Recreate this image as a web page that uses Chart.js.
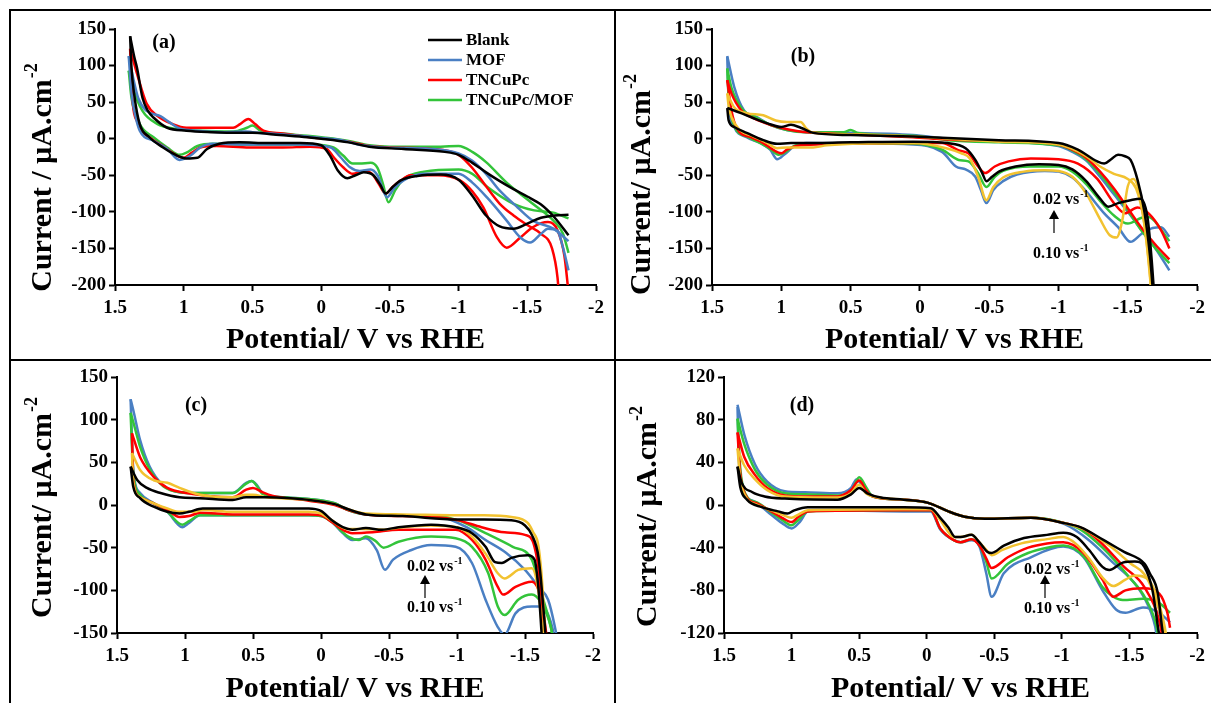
<!DOCTYPE html>
<html><head><meta charset="utf-8">
<script src="https://cdn.jsdelivr.net/npm/chart.js@4.4.1/dist/chart.umd.min.js"></script>
<style>
html,body{margin:0;padding:0;background:#fff;}
body{width:1211px;height:703px;overflow:hidden;position:relative;}
canvas{position:absolute;}
.ln{position:absolute;background:#000;}
</style></head><body>
<div class="ln" style="left:9px;top:9px;width:1202px;height:2px"></div>
<div class="ln" style="left:9px;top:9px;width:2px;height:694px"></div>
<div class="ln" style="left:9px;top:359px;width:1202px;height:2px"></div>
<div class="ln" style="left:614px;top:9px;width:2px;height:351px"></div>
<div class="ln" style="left:614px;top:359px;width:2px;height:344px"></div>
<canvas id="ca" width="598" height="346" style="left:12px;top:12px"></canvas>
<canvas id="cb" width="594" height="346" style="left:617px;top:12px"></canvas>
<canvas id="cc" width="598" height="341" style="left:12px;top:362px"></canvas>
<canvas id="cd" width="594" height="341" style="left:617px;top:362px"></canvas>
<script>
// ---------- tick labels & texts ----------
const xTicks = [1.5, 1, 0.5, 0, -0.5, -1, -1.5, -2];
const xTickLabels = ['1.5', '1', '0.5', '0', '-0.5', '-1', '-1.5', '-2'];
const yTicksAB = [150, 100, 50, 0, -50, -100, -150, -200];
const yTicksC = [150, 100, 50, 0, -50, -100, -150];
const yTicksD = [120, 80, 40, 0, -40, -80, -120];
const xTitleText = 'Potential/ V vs RHE';
const yTitleA = 'Current / \u00b5A.cm';
const yTitleB = 'Current/ \u00b5A.cm';
const ySup = '-2';
const legendLabels = ['Blank', 'MOF', 'TNCuPc', 'TNCuPc/MOF'];
const rateTop = '0.02 vs', rateBottom = '0.10 vs', rateSup = '-1';

// ---------- panel (a): [potential V, current uA/cm2] ----------
const aBlankUpper = [[1.39,140],[1.36,112],[1.34,97],[1.30,56],[1.26,38],[1.22,29],[1.12,15],[0.98,11],[0.8,9],[0.6,8],[0.5,8],[0.3,5],[0.1,2],[0,0],[-0.2,-5],[-0.35,-11],[-0.6,-14],[-0.9,-18],[-1.0,-22],[-1.1,-33],[-1.2,-46],[-1.3,-58],[-1.4,-69],[-1.5,-79],[-1.6,-90],[-1.7,-108],[-1.8,-132]];
const aBlankLower = [[1.39,140],[1.38,97],[1.36,60],[1.32,20],[1.25,2],[1.15,-12],[1.08,-20],[0.98,-27],[0.9,-26],[0.83,-14],[0.74,-7],[0.59,-5],[0.39,-6],[0.15,-6],[0.0,-9],[-0.07,-25],[-0.12,-43],[-0.19,-54],[-0.25,-50],[-0.31,-46],[-0.38,-50],[-0.43,-63],[-0.47,-75],[-0.52,-66],[-0.58,-57],[-0.7,-51],[-0.87,-49],[-1.0,-56],[-1.1,-78],[-1.2,-105],[-1.3,-120],[-1.4,-123],[-1.5,-116],[-1.6,-108],[-1.7,-105],[-1.8,-104]];
const aMofUpper = [[1.4,113],[1.37,85],[1.33,55],[1.27,38],[1.17,31],[1.1,22],[1.03,14],[0.9,11],[0.7,9],[0.55,10],[0.5,9],[0.3,6],[0.1,3],[0,1],[-0.15,-2],[-0.3,-9],[-0.45,-12],[-0.8,-14],[-1.0,-20],[-1.1,-30],[-1.2,-48],[-1.3,-71],[-1.43,-94],[-1.54,-112],[-1.69,-123],[-1.8,-140]];
const aMofLower = [[1.4,113],[1.38,62],[1.35,30],[1.32,11],[1.22,-3],[1.12,-14],[1.03,-29],[0.95,-23],[0.88,-12],[0.79,-7],[0.5,-8],[0.15,-8],[-0.07,-12],[-0.14,-25],[-0.21,-39],[-0.28,-44],[-0.36,-42],[-0.41,-50],[-0.48,-80],[-0.53,-68],[-0.6,-57],[-0.75,-48],[-1.0,-48],[-1.1,-60],[-1.21,-81],[-1.35,-112],[-1.45,-135],[-1.52,-142],[-1.6,-130],[-1.65,-123],[-1.72,-126],[-1.76,-149],[-1.8,-180]];
const aTncUpper = [[1.39,123],[1.34,89],[1.27,48],[1.19,31],[1.08,20],[0.98,15],[0.64,15],[0.59,20],[0.53,27],[0.48,20],[0.42,11],[0.28,7],[0.08,2],[-0.2,-4],[-0.35,-10],[-0.5,-12],[-0.8,-14],[-1.0,-22],[-1.1,-40],[-1.2,-65],[-1.3,-89],[-1.4,-105],[-1.5,-118],[-1.6,-130],[-1.68,-150],[-1.72,-190],[-1.74,-240]];
const aTncLower = [[1.39,123],[1.38,70],[1.33,20],[1.25,2],[1.15,-10],[1.05,-23],[1.0,-26],[0.94,-19],[0.88,-12],[0.76,-10],[0.52,-12],[0.28,-12],[0.08,-11],[-0.04,-14],[-0.09,-25],[-0.16,-39],[-0.23,-48],[-0.31,-44],[-0.37,-48],[-0.42,-62],[-0.47,-75],[-0.52,-66],[-0.58,-57],[-0.65,-50],[-0.85,-50],[-1.01,-57],[-1.1,-72],[-1.18,-94],[-1.28,-135],[-1.35,-149],[-1.45,-135],[-1.54,-121],[-1.65,-114],[-1.72,-125],[-1.77,-160],[-1.8,-210]];
const aCompUpper = [[1.4,93],[1.37,70],[1.3,38],[1.19,20],[1.08,14],[0.88,11],[0.64,10],[0.54,15],[0.5,18],[0.44,11],[0.28,7],[0.1,4],[0,2],[-0.2,-3],[-0.35,-9],[-0.5,-11],[-0.8,-11],[-1.0,-10],[-1.1,-18],[-1.2,-32],[-1.35,-60],[-1.54,-89],[-1.69,-112],[-1.76,-130],[-1.8,-156]];
const aCompLower = [[1.4,93],[1.38,56],[1.32,20],[1.22,2],[1.12,-12],[1.03,-22],[0.98,-19],[0.9,-10],[0.79,-7],[0.54,-8],[0.08,-8],[-0.09,-12],[-0.16,-23],[-0.23,-34],[-0.28,-34],[-0.36,-33],[-0.41,-40],[-0.45,-62],[-0.49,-87],[-0.54,-70],[-0.6,-55],[-0.75,-45],[-1.0,-42],[-1.1,-48],[-1.21,-66],[-1.4,-89],[-1.55,-98],[-1.69,-101],[-1.8,-109]];

// ---------- panel (b) ----------
const b02Upper = [[1.39,42],[1.36,40],[1.29,35],[1.2,28],[1.1,21],[1.0,16],[0.93,19],[0.86,15],[0.77,8],[0.5,5],[0.05,3],[-0.2,1],[-0.57,-2],[-1.0,-6],[-1.14,-15],[-1.28,-31],[-1.33,-34],[-1.38,-28],[-1.43,-22],[-1.48,-24],[-1.52,-29],[-1.57,-56],[-1.62,-100],[-1.66,-160],[-1.69,-230]];
const b02Lower = [[1.39,42],[1.38,25],[1.34,16],[1.25,8],[1.13,-2],[1.03,-7],[0.93,-6],[0.86,-6],[0.5,-5],[0.05,-4],[-0.2,-6],[-0.33,-13],[-0.4,-29],[-0.45,-47],[-0.48,-58],[-0.52,-52],[-0.57,-45],[-0.69,-38],[-0.86,-35],[-1.0,-36],[-1.1,-42],[-1.2,-58],[-1.3,-82],[-1.36,-93],[-1.43,-88],[-1.52,-84],[-1.59,-82],[-1.64,-105],[-1.67,-160],[-1.7,-240]];
const b04Upper = [[1.39,62],[1.34,43],[1.25,35],[1.13,32],[1.04,25],[0.96,23],[0.86,23],[0.82,14],[0.77,8],[0.5,6],[0.05,3],[-0.2,0],[-0.57,-4],[-1.0,-8],[-1.1,-14],[-1.2,-24],[-1.3,-38],[-1.4,-48],[-1.5,-55],[-1.56,-68],[-1.61,-105],[-1.65,-165],[-1.68,-230]];
const b04Lower = [[1.39,62],[1.38,45],[1.36,30],[1.3,12],[1.2,3],[1.1,-6],[1.03,-13],[0.96,-12],[0.77,-12],[0.67,-9],[0.05,-6],[-0.19,-13],[-0.3,-20],[-0.36,-27],[-0.42,-52],[-0.48,-84],[-0.53,-66],[-0.6,-53],[-0.75,-45],[-0.9,-43],[-1.0,-44],[-1.1,-52],[-1.2,-75],[-1.3,-110],[-1.37,-132],[-1.42,-135],[-1.46,-112],[-1.5,-65],[-1.54,-55],[-1.59,-80],[-1.64,-150],[-1.68,-230]];
const b06Upper = [[1.39,80],[1.36,62],[1.29,39],[1.2,28],[1.08,19],[0.93,12],[0.77,8],[0.5,6],[0.05,2],[-0.2,-1],[-0.57,-3],[-1.0,-8],[-1.1,-15],[-1.2,-26],[-1.3,-45],[-1.4,-68],[-1.5,-95],[-1.6,-122],[-1.7,-145],[-1.8,-165]];
const b06Lower = [[1.39,80],[1.36,39],[1.32,14],[1.22,2],[1.13,-6],[1.06,-15],[1.0,-20],[0.96,-15],[0.86,-9],[0.05,-6],[-0.16,-6],[-0.28,-16],[-0.35,-20],[-0.42,-38],[-0.47,-47],[-0.54,-38],[-0.64,-31],[-0.8,-27],[-1.0,-28],[-1.14,-34],[-1.28,-55],[-1.4,-88],[-1.48,-102],[-1.57,-94],[-1.65,-102],[-1.74,-125],[-1.8,-150]];
const b08Upper = [[1.39,96],[1.36,70],[1.28,40],[1.18,29],[1.08,19],[0.96,12],[0.82,9],[0.55,9],[0.5,12],[0.45,8],[0.05,4],[-0.2,-2],[-0.57,-5],[-1.0,-9],[-1.1,-16],[-1.2,-28],[-1.3,-48],[-1.4,-72],[-1.5,-98],[-1.6,-126],[-1.7,-150],[-1.8,-170]];
const b08Lower = [[1.39,96],[1.38,58],[1.34,18],[1.25,3],[1.15,-6],[1.08,-14],[1.02,-22],[0.97,-18],[0.91,-10],[0.82,-7],[0.05,-7],[-0.16,-15],[-0.28,-29],[-0.35,-31],[-0.42,-47],[-0.48,-66],[-0.54,-52],[-0.6,-44],[-0.8,-38],[-1.0,-38],[-1.1,-45],[-1.2,-62],[-1.3,-85],[-1.4,-105],[-1.5,-116],[-1.6,-108],[-1.65,-107],[-1.7,-114],[-1.75,-127],[-1.8,-140]];
const b10Upper = [[1.39,113],[1.34,71],[1.27,39],[1.18,30],[1.08,19],[0.96,12],[0.82,9],[0.53,8],[0.05,5],[-0.2,0],[-0.57,-4],[-1.0,-10],[-1.1,-18],[-1.2,-30],[-1.3,-52],[-1.4,-76],[-1.5,-100],[-1.6,-125],[-1.7,-150],[-1.8,-180]];
const b10Lower = [[1.39,112],[1.38,53],[1.34,16],[1.25,2],[1.15,-6],[1.08,-15],[1.03,-28],[0.98,-22],[0.91,-11],[0.82,-6],[0.05,-8],[-0.16,-18],[-0.26,-38],[-0.33,-42],[-0.4,-52],[-0.44,-70],[-0.48,-88],[-0.53,-70],[-0.6,-58],[-0.7,-49],[-0.9,-44],[-1.0,-45],[-1.1,-53],[-1.19,-70],[-1.33,-102],[-1.43,-121],[-1.52,-141],[-1.6,-130],[-1.68,-122],[-1.74,-121],[-1.8,-134]];

// ---------- panel (c) ----------
const c02Upper = [[1.4,45],[1.35,29],[1.28,20],[1.18,14],[1.04,9],[0.89,8],[0.65,6],[0.55,9],[0.5,9],[0.4,9],[0.09,6],[-0.1,1],[-0.2,-5],[-0.33,-11],[-0.6,-13],[-1.0,-17],[-1.2,-17],[-1.4,-18],[-1.5,-24],[-1.55,-35],[-1.6,-62],[-1.64,-130],[-1.66,-170]];
const c02Lower = [[1.4,45],[1.38,21],[1.33,8],[1.23,-2],[1.13,-8],[1.04,-10],[0.97,-8],[0.87,-4],[0.65,-4],[0.09,-4],[0,-7],[-0.08,-18],[-0.16,-26],[-0.23,-29],[-0.33,-27],[-0.45,-29],[-0.57,-26],[-0.81,-23],[-0.99,-26],[-1.11,-33],[-1.21,-49],[-1.28,-67],[-1.33,-68],[-1.4,-62],[-1.52,-59],[-1.57,-64],[-1.6,-100],[-1.63,-170]];
const c04Upper = [[1.39,61],[1.33,41],[1.23,29],[1.13,26],[1.04,20],[0.89,12],[0.65,9],[0.55,12],[0.5,12],[0.4,9],[0.09,6],[-0.1,1],[-0.2,-5],[-0.33,-10],[-0.6,-11],[-1.0,-12],[-1.2,-12],[-1.4,-14],[-1.52,-21],[-1.56,-32],[-1.6,-49],[-1.63,-100],[-1.65,-170]];
const c04Lower = [[1.39,61],[1.38,26],[1.33,9],[1.23,2],[1.13,-4],[1.04,-8],[0.94,-8],[0.87,-6],[0.65,-8],[0.09,-8],[0,-10],[-0.08,-18],[-0.19,-28],[-0.3,-28],[-0.45,-29],[-0.6,-26],[-0.8,-24],[-1.0,-26],[-1.11,-37],[-1.21,-57],[-1.3,-80],[-1.35,-86],[-1.45,-76],[-1.55,-74],[-1.6,-103],[-1.63,-150],[-1.65,-170]];
const c06Upper = [[1.39,84],[1.33,56],[1.23,33],[1.13,20],[0.99,14],[0.65,9],[0.55,18],[0.5,20],[0.43,15],[0.36,11],[0.09,5],[-0.1,0],[-0.2,-6],[-0.33,-11],[-0.6,-13],[-0.85,-14],[-1.01,-18],[-1.18,-26],[-1.35,-32],[-1.5,-35],[-1.57,-49],[-1.61,-90],[-1.63,-143],[-1.65,-170]];
const c06Lower = [[1.39,84],[1.38,29],[1.33,9],[1.23,2],[1.13,-6],[1.04,-14],[0.97,-13],[0.89,-9],[0.65,-11],[0.09,-11],[0,-12],[-0.08,-20],[-0.16,-29],[-0.23,-33],[-0.38,-32],[-0.57,-29],[-0.99,-29],[-1.11,-41],[-1.21,-64],[-1.3,-96],[-1.34,-105],[-1.43,-96],[-1.55,-90],[-1.62,-111],[-1.65,-143],[-1.67,-170]];
const c08Upper = [[1.4,108],[1.38,97],[1.33,68],[1.26,42],[1.16,22],[1.04,15],[0.89,14],[0.65,14],[0.55,25],[0.51,28],[0.47,22],[0.43,13],[0.28,9],[0.09,7],[-0.1,2],[-0.2,-6],[-0.33,-11],[-0.6,-12],[-0.85,-13],[-1.01,-18],[-1.21,-33],[-1.41,-49],[-1.55,-64],[-1.62,-103],[-1.69,-143],[-1.72,-170]];
const c08Lower = [[1.4,108],[1.38,38],[1.33,12],[1.23,2],[1.13,-8],[1.02,-23],[0.97,-19],[0.89,-12],[0.65,-12],[0.09,-12],[0,-13],[-0.08,-20],[-0.2,-37],[-0.28,-41],[-0.33,-37],[-0.4,-42],[-0.46,-50],[-0.57,-43],[-0.81,-37],[-0.99,-39],[-1.11,-49],[-1.23,-80],[-1.3,-119],[-1.35,-129],[-1.45,-111],[-1.55,-105],[-1.62,-115],[-1.69,-143],[-1.72,-170]];
const c10Upper = [[1.4,124],[1.38,111],[1.33,76],[1.26,45],[1.16,23],[1.04,15],[0.89,14],[0.65,14],[0.55,26],[0.51,28],[0.47,23],[0.43,14],[0.28,9],[0.09,7],[-0.1,2],[-0.2,-6],[-0.33,-11],[-0.6,-12],[-0.88,-14],[-1.07,-26],[-1.21,-41],[-1.36,-56],[-1.5,-76],[-1.6,-96],[-1.67,-111],[-1.72,-143],[-1.75,-170]];
const c10Lower = [[1.4,124],[1.38,41],[1.33,14],[1.23,2],[1.13,-8],[1.02,-26],[0.97,-21],[0.89,-12],[0.65,-12],[0.09,-12],[0,-13],[-0.08,-20],[-0.16,-33],[-0.23,-41],[-0.33,-39],[-0.41,-53],[-0.47,-76],[-0.53,-64],[-0.66,-53],[-0.81,-47],[-0.99,-49],[-1.11,-68],[-1.21,-111],[-1.3,-143],[-1.35,-152],[-1.43,-127],[-1.55,-119],[-1.62,-119],[-1.7,-143],[-1.73,-170]];

// ---------- panel (d) ----------
const d02Upper = [[1.4,36],[1.37,21],[1.29,12],[1.2,8],[1.05,6],[0.66,5],[0.56,10],[0.5,16],[0.44,11],[0.34,7],[0.17,5],[-0.01,2],[-0.16,-6],[-0.28,-11],[-0.43,-13],[-0.77,-12],[-1.02,-17],[-1.14,-21],[-1.31,-33],[-1.46,-44],[-1.61,-55],[-1.65,-64],[-1.71,-83],[-1.74,-114],[-1.76,-130]];
const d02Lower = [[1.4,36],[1.38,17],[1.33,5],[1.22,-2],[1.1,-6],[1.03,-8],[0.98,-5],[0.88,-2],[0.17,-2],[-0.03,-3],[-0.1,-12],[-0.16,-21],[-0.21,-30],[-0.25,-30],[-0.33,-28],[-0.39,-35],[-0.45,-44],[-0.48,-45],[-0.57,-38],[-0.72,-31],[-0.89,-28],[-1.01,-26],[-1.11,-30],[-1.2,-42],[-1.3,-58],[-1.35,-61],[-1.45,-54],[-1.54,-53],[-1.61,-58],[-1.67,-80],[-1.71,-114],[-1.73,-130]];
const d04Upper = [[1.4,53],[1.35,37],[1.27,24],[1.18,14],[1.05,8],[0.66,7],[0.56,11],[0.5,19],[0.45,11],[0.36,7],[0.17,5],[-0.01,2],[-0.16,-6],[-0.28,-11],[-0.43,-13],[-0.77,-12],[-1.02,-17],[-1.17,-23],[-1.36,-39],[-1.51,-55],[-1.61,-65],[-1.68,-83],[-1.75,-114],[-1.77,-130]];
const d04Lower = [[1.4,53],[1.38,25],[1.34,8],[1.25,0],[1.15,-5],[1.07,-9],[1.0,-12],[0.95,-9],[0.88,-5],[0.17,-4],[-0.03,-4],[-0.1,-14],[-0.2,-30],[-0.25,-30],[-0.33,-28],[-0.39,-35],[-0.44,-42],[-0.48,-47],[-0.56,-42],[-0.7,-36],[-0.89,-32],[-1.01,-30],[-1.1,-36],[-1.2,-50],[-1.3,-68],[-1.38,-76],[-1.47,-70],[-1.54,-66],[-1.64,-70],[-1.7,-85],[-1.76,-114],[-1.78,-130]];
const d06Upper = [[1.4,68],[1.35,45],[1.27,28],[1.18,16],[1.05,9],[0.9,8],[0.66,8],[0.56,14],[0.5,23],[0.45,14],[0.4,8],[0.17,5],[-0.01,2],[-0.16,-6],[-0.28,-11],[-0.43,-13],[-0.77,-12],[-1.02,-17],[-1.15,-22],[-1.27,-33],[-1.46,-58],[-1.61,-77],[-1.73,-114],[-1.75,-130]];
const d06Lower = [[1.4,68],[1.38,30],[1.34,9],[1.25,1],[1.15,-6],[1.07,-12],[1.0,-16],[0.95,-11],[0.88,-6],[0.17,-5],[-0.03,-5],[-0.1,-22],[-0.2,-33],[-0.25,-35],[-0.33,-32],[-0.39,-38],[-0.44,-50],[-0.48,-59],[-0.6,-49],[-0.75,-40],[-0.89,-36],[-1.01,-35],[-1.16,-45],[-1.3,-70],[-1.38,-86],[-1.47,-80],[-1.6,-78],[-1.72,-83],[-1.78,-101],[-1.8,-115]];
const d08Upper = [[1.4,81],[1.35,57],[1.27,33],[1.18,19],[1.05,11],[0.9,10],[0.66,9],[0.55,15],[0.5,26],[0.45,17],[0.4,8],[0.17,5],[-0.01,2],[-0.16,-6],[-0.28,-11],[-0.43,-13],[-0.77,-12],[-1.02,-17],[-1.15,-24],[-1.3,-40],[-1.5,-68],[-1.62,-88],[-1.7,-114],[-1.72,-130]];
const d08Lower = [[1.4,81],[1.38,35],[1.34,10],[1.25,2],[1.15,-7],[1.07,-14],[1.0,-19],[0.95,-14],[0.88,-6],[0.17,-5],[-0.03,-5],[-0.1,-22],[-0.2,-33],[-0.25,-35],[-0.33,-32],[-0.39,-38],[-0.44,-53],[-0.48,-69],[-0.6,-55],[-0.75,-45],[-0.89,-40],[-1.01,-38],[-1.16,-48],[-1.3,-77],[-1.38,-86],[-1.45,-89],[-1.6,-88],[-1.72,-92],[-1.8,-101]];
const d10Upper = [[1.4,94],[1.35,66],[1.27,38],[1.18,22],[1.05,13],[0.9,12],[0.66,11],[0.56,16],[0.52,24],[0.48,19],[0.42,9],[0.17,5],[-0.01,2],[-0.16,-6],[-0.28,-11],[-0.43,-13],[-0.77,-12],[-1.02,-18],[-1.2,-33],[-1.36,-52],[-1.56,-77],[-1.66,-101],[-1.69,-114],[-1.71,-130]];
const d10Lower = [[1.4,92],[1.39,42],[1.35,11],[1.27,3],[1.18,-6],[1.07,-17],[1.0,-22],[0.94,-16],[0.88,-6],[0.78,-5],[0.17,-6],[-0.03,-6],[-0.1,-23],[-0.2,-33],[-0.25,-35],[-0.33,-33],[-0.39,-39],[-0.44,-64],[-0.48,-86],[-0.57,-64],[-0.77,-49],[-1.01,-39],[-1.16,-49],[-1.3,-80],[-1.4,-98],[-1.47,-101],[-1.6,-96],[-1.72,-101],[-1.8,-110]];

// ---------- styling ----------
const FONT = '"Liberation Serif", "Times New Roman", serif';
const COL = {black:'#000000', blue:'#4a7fc3', red:'#ff0000', green:'#33c43a', yellow:'#f2c230'};

const decoPlugin = {
  id: 'deco',
  afterDraw(chart, args, o) {
    const ctx = chart.ctx, ca = chart.chartArea;
    ctx.save();
    ctx.fillStyle = '#000';
    ctx.strokeStyle = '#000';
    // x title
    ctx.font = 'bold 30px ' + FONT;
    ctx.textAlign = 'center'; ctx.textBaseline = 'middle';
    ctx.fillText(o.xTitle, (ca.left + ca.right) / 2, o.xTitleY);
    // y title with superscript
    ctx.save();
    ctx.translate(o.yTitlePos[0], o.yTitlePos[1]);
    ctx.rotate(-Math.PI / 2);
    ctx.font = 'bold 30px ' + FONT;
    const w1 = ctx.measureText(o.yTitle).width;
    ctx.font = 'bold 18px ' + FONT;
    const w2 = ctx.measureText(ySup).width;
    const x0 = -(w1 + w2) / 2;
    ctx.textAlign = 'left';
    ctx.font = 'bold 30px ' + FONT;
    ctx.fillText(o.yTitle, x0, 0);
    ctx.font = 'bold 18px ' + FONT;
    ctx.fillText(ySup, x0 + w1 + 1, -11);
    ctx.restore();
    // panel label
    ctx.font = 'bold 20px ' + FONT;
    ctx.textAlign = 'center';
    ctx.fillText(o.label, o.labelPos[0], o.labelPos[1]);
    // legend
    if (o.legend) {
      const cols = [COL.black, COL.blue, COL.red, COL.green];
      ctx.font = 'bold 17px ' + FONT;
      ctx.textAlign = 'left';
      legendLabels.forEach((t, i) => {
        const y = o.legend.y + i * o.legend.dy;
        ctx.strokeStyle = cols[i]; ctx.lineWidth = 2.5;
        ctx.beginPath(); ctx.moveTo(o.legend.x, y); ctx.lineTo(o.legend.x + 34, y); ctx.stroke();
        ctx.fillStyle = '#000';
        ctx.fillText(t, o.legend.x + 38, y + 1);
      });
    }
    // scan-rate annotation
    if (o.ann) {
      const a = o.ann;
      const drawRate = (txt, x, y) => {
        ctx.font = 'bold 16px ' + FONT;
        ctx.textAlign = 'left';
        ctx.fillText(txt, x, y);
        const w = ctx.measureText(txt).width;
        ctx.font = 'bold 10px ' + FONT;
        ctx.fillText(rateSup, x + w + 1, y - 6);
      };
      ctx.fillStyle = '#000';
      drawRate(rateTop, a.x, a.y1);
      drawRate(rateBottom, a.x, a.y2);
      ctx.strokeStyle = '#000'; ctx.lineWidth = 1.2;
      ctx.beginPath(); ctx.moveTo(a.ax, a.aTop + 7); ctx.lineTo(a.ax, a.aBot); ctx.stroke();
      ctx.beginPath(); ctx.moveTo(a.ax, a.aTop); ctx.lineTo(a.ax - 5, a.aTop + 9); ctx.lineTo(a.ax + 5, a.aTop + 9); ctx.closePath(); ctx.fill();
    }
    ctx.restore();
  }
};

function build(id, P) {
  const canvas = document.getElementById(id);
  const W = canvas.width, H = canvas.height;
  const datasets = [];
  P.curves.forEach(([up, low, col]) => {
    [up, low].forEach(d => datasets.push({
      data: d, borderColor: col, backgroundColor: col, borderWidth: 2.5,
      pointRadius: 0, fill: false, cubicInterpolationMode: 'monotone'
    }));
  });
  const tickFont = {family: FONT, size: 19, weight: 'bold'};
  new Chart(canvas, {
    type: 'line',
    data: {datasets},
    plugins: [decoPlugin],
    options: {
      responsive: false, animation: false, devicePixelRatio: 1,
      layout: {padding: {left: 0, top: P.plot.t, right: W - P.plot.r, bottom: 0}},
      plugins: {legend: {display: false}, tooltip: {enabled: false}, deco: P.deco},
      scales: {
        x: {
          type: 'linear', min: -2, max: 1.5, reverse: true,
          afterBuildTicks: s => { s.ticks = xTicks.map(v => ({value: v})); },
          afterFit: s => { s.height = H - P.plot.b; },
          ticks: {font: tickFont, color: '#000', padding: 6, maxRotation: 0, autoSkip: false,
                  callback: v => xTickLabels[xTicks.indexOf(v)]},
          grid: {drawOnChartArea: false, drawTicks: true, tickLength: 6, tickWidth: 2, tickColor: '#000'},
          border: {display: true, color: '#000', width: 2}
        },
        y: {
          type: 'linear', min: P.yTicks[P.yTicks.length - 1], max: P.yTicks[0],
          afterBuildTicks: s => { s.ticks = P.yTicks.map(v => ({value: v})); },
          afterFit: s => { s.width = P.plot.l; },
          ticks: {font: tickFont, color: '#000', padding: 3, autoSkip: false,
                  callback: v => String(v)},
          grid: {drawOnChartArea: false, drawTicks: true, tickLength: 6, tickWidth: 2, tickColor: '#000'},
          border: {display: true, color: '#000', width: 2}
        }
      }
    }
  });
}

build('ca', {
  plot: {l: 103, r: 584, t: 17, b: 273}, yTicks: yTicksAB,
  curves: [[aBlankUpper, aBlankLower, COL.black], [aMofUpper, aMofLower, COL.blue],
           [aTncUpper, aTncLower, COL.red], [aCompUpper, aCompLower, COL.green]],
  deco: {xTitle: xTitleText, xTitleY: 328, yTitle: yTitleA, yTitlePos: [31, 166],
         label: '(a)', labelPos: [152, 31], legend: {x: 416, y: 28, dy: 20}}
});
build('cb', {
  plot: {l: 95, r: 583, t: 17, b: 273}, yTicks: yTicksAB,
  curves: [[b02Upper, b02Lower, COL.black], [b04Upper, b04Lower, COL.yellow], [b06Upper, b06Lower, COL.red],
           [b08Upper, b08Lower, COL.green], [b10Upper, b10Lower, COL.blue]],
  deco: {xTitle: xTitleText, xTitleY: 328, yTitle: yTitleB, yTitlePos: [25, 173],
         label: '(b)', labelPos: [186, 45],
         ann: {x: 416, y1: 188, y2: 242, ax: 437, aTop: 198, aBot: 221}}
});
build('cc', {
  plot: {l: 105, r: 581, t: 15, b: 271}, yTicks: yTicksC,
  curves: [[c02Upper, c02Lower, COL.black], [c04Upper, c04Lower, COL.yellow], [c06Upper, c06Lower, COL.red],
           [c08Upper, c08Lower, COL.green], [c10Upper, c10Lower, COL.blue]],
  deco: {xTitle: xTitleText, xTitleY: 327, yTitle: yTitleB, yTitlePos: [31, 146],
         label: '(c)', labelPos: [184, 44],
         ann: {x: 395, y1: 205, y2: 246, ax: 413, aTop: 213, aBot: 236}}
});
build('cd', {
  plot: {l: 107, r: 583, t: 15, b: 271}, yTicks: yTicksD,
  curves: [[d02Upper, d02Lower, COL.black], [d04Upper, d04Lower, COL.yellow], [d06Upper, d06Lower, COL.red],
           [d08Upper, d08Lower, COL.green], [d10Upper, d10Lower, COL.blue]],
  deco: {xTitle: xTitleText, xTitleY: 327, yTitle: yTitleB, yTitlePos: [31, 155],
         label: '(d)', labelPos: [185, 44],
         ann: {x: 407, y1: 208, y2: 247, ax: 428, aTop: 213, aBot: 236}}
});
</script>
</body></html>
